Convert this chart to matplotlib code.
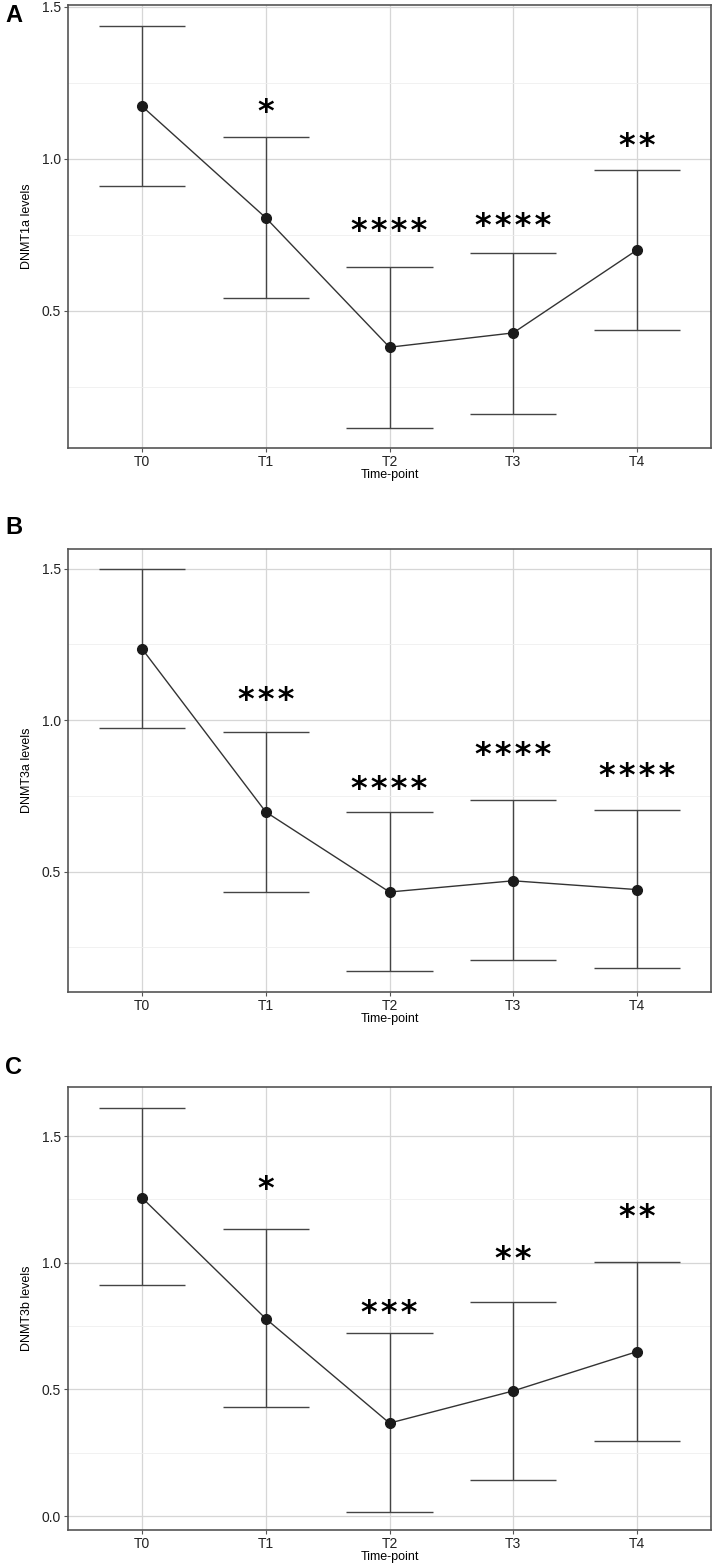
import numpy as np
import matplotlib.pyplot as plt
from matplotlib.ticker import MultipleLocator

# data
time_points = ['T0', 'T1', 'T2', 'T3', 'T4']
panel_tags = ['A', 'B', 'C']
y_labels = ['DNMT1a levels', 'DNMT3a levels', 'DNMT3b levels']

dnmt1a_mean = [1.172, 0.806, 0.381, 0.428, 0.700]
dnmt1a_low = [0.910, 0.544, 0.117, 0.163, 0.437]
dnmt1a_high = [1.437, 1.071, 0.645, 0.692, 0.963]

dnmt3a_mean = [1.235, 0.697, 0.433, 0.470, 0.441]
dnmt3a_low = [0.974, 0.434, 0.171, 0.210, 0.181]
dnmt3a_high = [1.499, 0.960, 0.696, 0.737, 0.705]

dnmt3b_mean = [1.256, 0.779, 0.367, 0.494, 0.649]
dnmt3b_low = [0.912, 0.430, 0.018, 0.141, 0.298]
dnmt3b_high = [1.610, 1.134, 0.722, 0.847, 1.003]

# significance marks (label text and height of the mark)
dnmt1a_sig = ['', '*', '****', '****', '**']
dnmt1a_sig_y = [0, 1.172, 0.783, 0.797, 1.062]
dnmt3a_sig = ['', '***', '****', '****', '****']
dnmt3a_sig_y = [0, 1.087, 0.792, 0.904, 0.835]
dnmt3b_sig = ['', '*', '***', '**', '**']
dnmt3b_sig_y = [0, 1.313, 0.824, 1.036, 1.205]

ylims = [(0.050, 1.505), (0.103, 1.565), (-0.055, 1.694)]

panels = [
    (dnmt1a_mean, dnmt1a_low, dnmt1a_high, dnmt1a_sig, dnmt1a_sig_y),
    (dnmt3a_mean, dnmt3a_low, dnmt3a_high, dnmt3a_sig, dnmt3a_sig_y),
    (dnmt3b_mean, dnmt3b_low, dnmt3b_high, dnmt3b_sig, dnmt3b_sig_y),
]

plt.rcParams['font.family'] = ['Liberation Sans', 'DejaVu Sans']

W, H = 715, 1563
fig = plt.figure(figsize=(W / 100, H / 100), dpi=100)

ax_left, ax_right = 68, 711
ax_tops = [5, 549, 1087]
ax_h = 443
tag_y = [15, 528, 1067]

x = np.arange(len(time_points))
cap = 0.35
line_col = '#333333'

for i, (mean, low, high, sig, sig_y) in enumerate(panels):
    top = ax_tops[i]
    ax = fig.add_axes([ax_left / W, 1 - (top + ax_h) / H,
                       (ax_right - ax_left) / W, ax_h / H])

    ax.set_xlim(-0.6, 4.6)
    ax.set_ylim(*ylims[i])
    ax.yaxis.set_major_locator(MultipleLocator(0.5))
    ax.yaxis.set_minor_locator(MultipleLocator(0.25))
    ax.set_xticks(x)
    ax.set_xticklabels(time_points)

    ax.grid(True, which='major', color='#d6d6d6', linewidth=0.9)
    ax.grid(True, which='minor', axis='y', color='#efefef', linewidth=0.6)
    ax.set_axisbelow(True)

    ax.vlines(x, low, high, color='#444444', linewidth=1.0, zorder=2)
    ax.hlines(low, x - cap, x + cap, color='#444444', linewidth=1.0, zorder=2)
    ax.hlines(high, x - cap, x + cap, color='#444444', linewidth=1.0, zorder=2)
    ax.plot(x, mean, color=line_col, linewidth=1.0, zorder=3)
    ax.plot(x, mean, 'o', color='#1a1a1a', markersize=7, zorder=4)

    # asterisks sit high in the text box, so nudge them down a little
    for xi, s, sy in zip(x, sig, sig_y):
        if s:
            ax.annotate('\u200a'.join(s), (xi, sy), xytext=(0, -4.5),
                        textcoords='offset points', ha='center', va='center',
                        fontsize=23, fontweight='bold', family='DejaVu Sans',
                        color='black')

    for sp in ax.spines.values():
        sp.set_color('#555555')
        sp.set_linewidth(1.2)

    ax.tick_params(axis='both', which='major', length=3, width=0.8,
                   color='#555555', labelsize=10, labelcolor='#222222', pad=2)
    ax.tick_params(axis='both', which='minor', length=0)
    ax.set_ylabel(y_labels[i], fontsize=9, labelpad=6)
    ax.set_xlabel('Time-point', fontsize=9, labelpad=0)

    fig.text(5 / W, 1 - tag_y[i] / H, panel_tags[i], fontsize=17,
             fontweight='bold', ha='left', va='center')

fig.savefig('out.png', dpi=100)
